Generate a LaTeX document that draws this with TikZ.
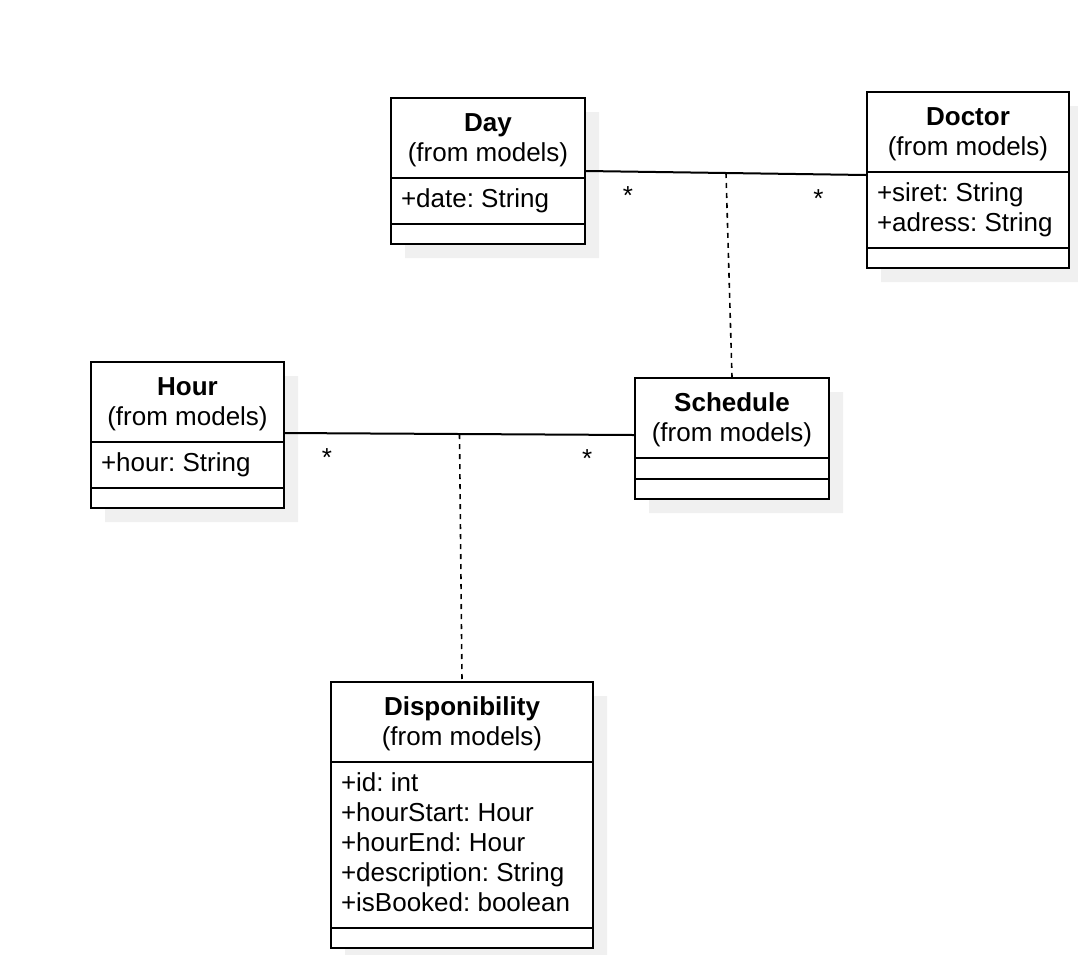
\documentclass[tikz,border=0pt]{standalone}
\usepackage{fontspec}
\setmainfont{Liberation Sans}
\usetikzlibrary{shapes.multipart,shadows}
\frenchspacing

\newcommand{\clshead}[1]{\begin{tabular}{@{}c@{}}\rule{0pt}{25pt}\textbf{#1}\\(from models)\end{tabular}}
\newcommand{\clsattr}[1]{\begin{tabular}{@{}l@{}}#1\end{tabular}}

\begin{document}
\begin{tikzpicture}[
    x=1pt, y=-1pt,
    cls/.style={draw, line width=2pt, rectangle split, rectangle split parts=3,
      rectangle split part align={center,left,left}, anchor=north west,
      inner xsep=10pt, inner ysep=7pt, fill=white,
      drop shadow={shadow xshift=14pt, shadow yshift=-14pt, fill=black!6, opacity=1, draw=none},
      font=\fontsize{26}{30}\selectfont},
    assoc/.style={line width=2pt},
    link/.style={line width=1.6pt, dash pattern=on 5pt off 5pt},
    mult/.style={font=\fontsize{26}{30}\selectfont, inner sep=0pt, anchor=base, yshift=-33pt}
  ]
    \useasboundingbox (0,0) rectangle (1078,954);

    % classes
    \node[cls, minimum width=194pt] (day) at (390,97)
      {\clshead{Day}\nodepart{two}\clsattr{+date: String}\nodepart{three}\rule{0pt}{4pt}};
    \node[cls, minimum width=202pt] (doctor) at (866,91)
      {\clshead{Doctor}\nodepart{two}\clsattr{+siret: String\\+adress: String}\nodepart{three}\rule{0pt}{4pt}};
    \node[cls, minimum width=193pt] (hour) at (90,361)
      {\clshead{Hour}\nodepart{two}\clsattr{+hour: String}\nodepart{three}\rule{0pt}{4pt}};
    \node[cls, minimum width=194pt] (schedule) at (634,377)
      {\clshead{Schedule}\nodepart{two}\rule{0pt}{5pt}\nodepart{three}\rule{0pt}{4pt}};
    \node[cls, minimum width=262pt] (disp) at (330,681)
      {\clshead{Disponibility}\nodepart{two}\clsattr{+id: int\\+hourStart: Hour\\+hourEnd: Hour\\+description: String\\+isBooked: boolean}\nodepart{three}\rule{0pt}{4pt}};

    % associations
    \draw[assoc] ([yshift=-74pt]day.north east) -- node[mult, pos=0.15] {*} node[mult, pos=0.83] {*}
      coordinate[pos=0.5] (dd) ([yshift=-84pt]doctor.north west);
    \draw[assoc] ([yshift=-72pt]hour.north east) -- node[mult, pos=0.12] {*} node[mult, pos=0.866] {*}
      coordinate[pos=0.5] (hs) ([yshift=-58pt]schedule.north west);

    % association classes
    \draw[link] (dd) -- (schedule.north);
    \draw[link] (hs) -- (disp.north);
\end{tikzpicture}
\end{document}
